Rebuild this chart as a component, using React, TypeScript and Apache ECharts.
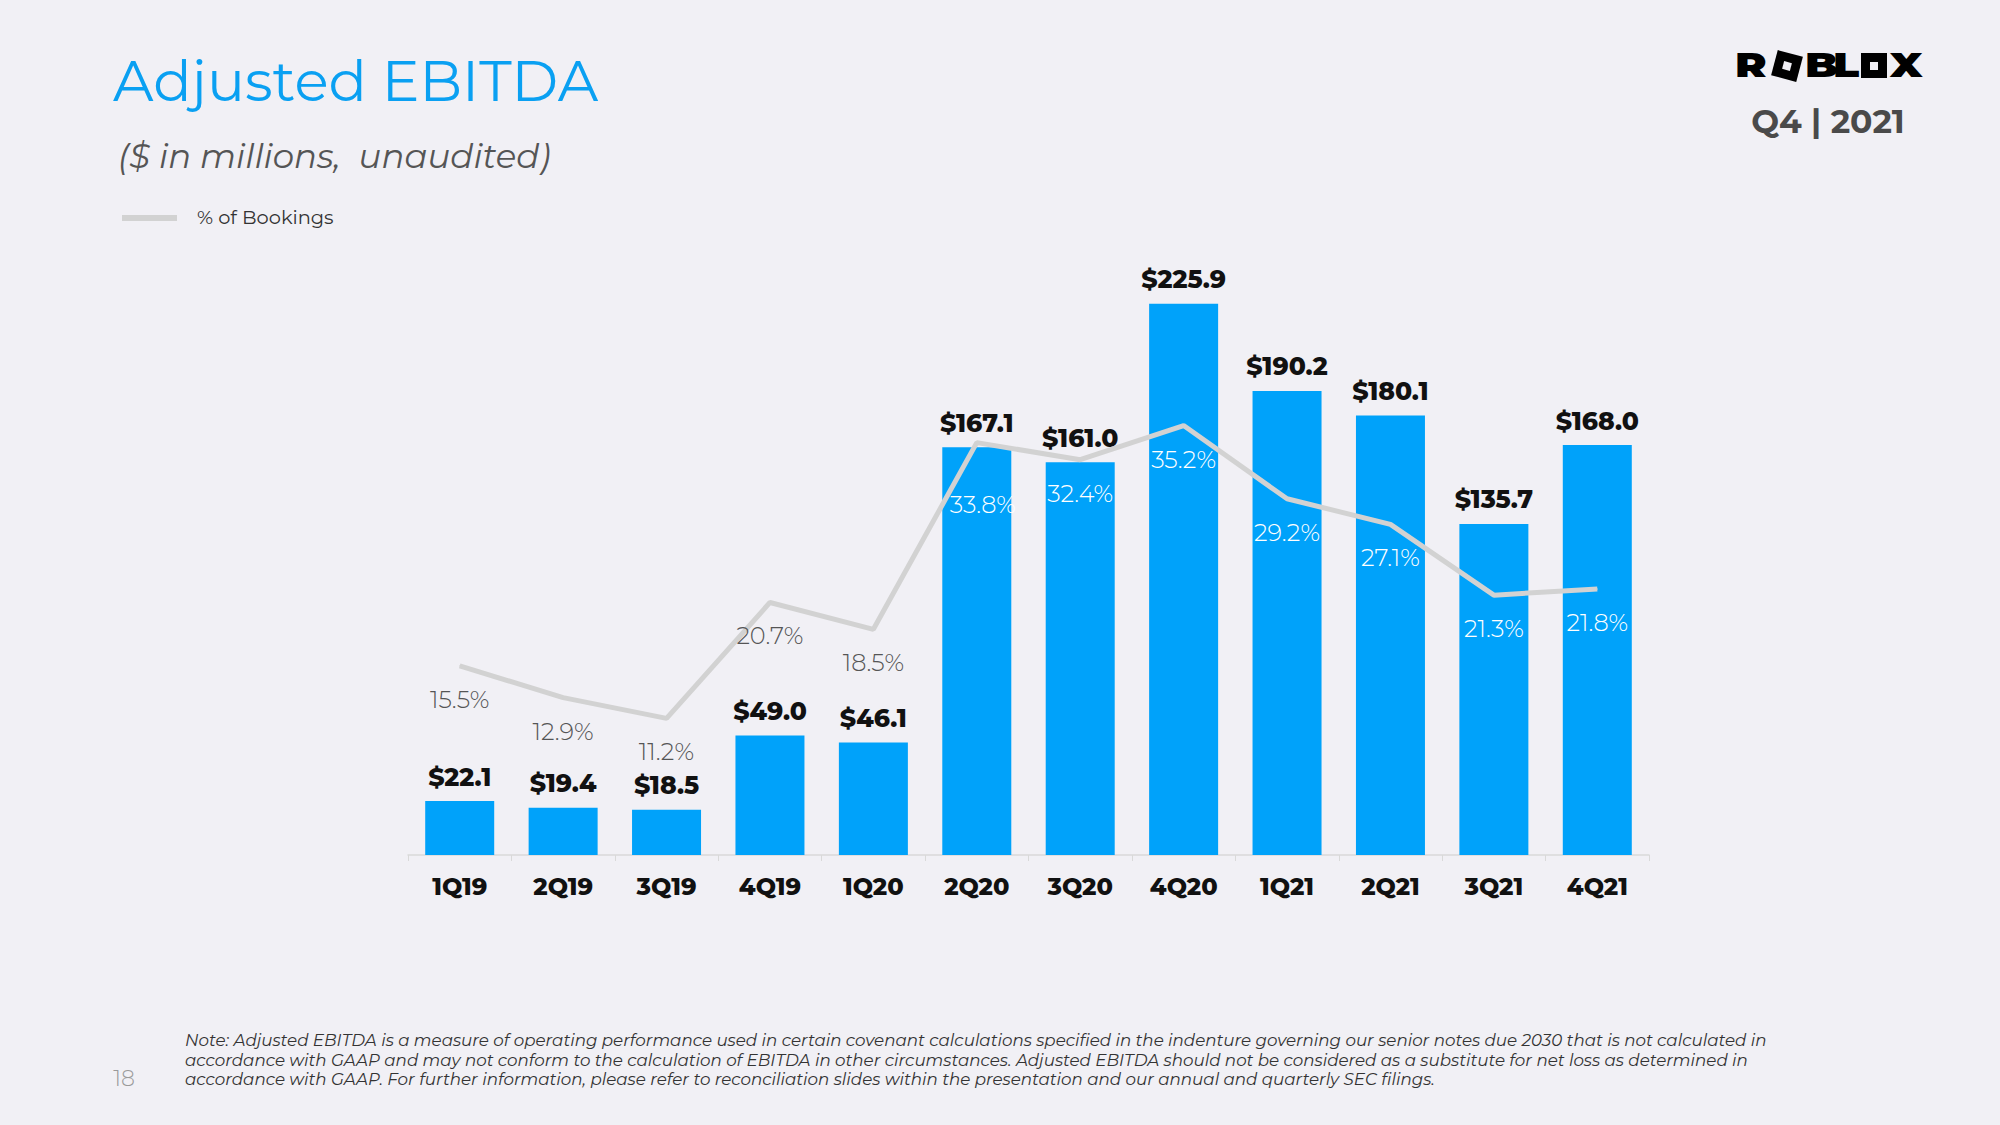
import React, { useEffect, useRef } from "react";
import * as echarts from "echarts";

const categories = ["1Q19", "2Q19", "3Q19", "4Q19", "1Q20", "2Q20", "3Q20", "4Q20", "1Q21", "2Q21", "3Q21", "4Q21"];
const ebitda = [22.1, 19.4, 18.5, 49.0, 46.1, 167.1, 161.0, 225.9, 190.2, 180.1, 135.7, 168.0];
const pctBookings = [15.5, 12.9, 11.2, 20.7, 18.5, 33.8, 32.4, 35.2, 29.2, 27.1, 21.3, 21.8];

const titleText = "Adjusted EBITDA";
const subtitleText = "($ in millions,  unaudited)";
const legendText = "% of Bookings";
const periodText = "Q4 | 2021";
const pageNumber = "18";
const noteLines = [
  "Note: Adjusted EBITDA is a measure of operating performance used in certain covenant calculations specified in the indenture governing our senior notes due 2030 that is not calculated in",
  "accordance with GAAP and may not conform to the calculation of EBITDA in other circumstances. Adjusted EBITDA should not be considered as a substitute for net loss as determined in",
  "accordance with GAAP. For further information, please refer to reconciliation slides within the presentation and our annual and quarterly SEC filings.",
];

const BG = "#f1f0f5";
const BLUE = "#00a2fa";
const FONT = "Montserrat, 'Open Sans', sans-serif";

export default function App() {
  const ref = useRef<HTMLDivElement>(null);
  useEffect(() => {
    if (!ref.current) return;
    const chart = echarts.init(ref.current, null, { renderer: "svg" });
    const lineData = pctBookings.map((v, i) => ({
      value: v,
      label: {
        color: i >= 5 ? "#ffffff" : "#555555",
        offset: i === 5 ? [6, 28] : [0, 0],
      },
    }));
    const logoText = (t: string, x: number) => ({
      type: "text",
      x,
      y: 65,
      scaleX: 1.25,
      style: { text: t, fill: "#000", fontSize: 34, fontWeight: 900, fontFamily: FONT, textVerticalAlign: "middle" },
    });
    const option: any = {
      animation: false,
      backgroundColor: BG,
      textStyle: { fontFamily: FONT },
      grid: { left: 408, right: 351, top: 245, bottom: 270 },
      xAxis: {
        type: "category",
        data: categories,
        axisLine: { lineStyle: { color: "#d9d9d9", width: 1.5 } },
        axisTick: { show: true, length: 6, lineStyle: { color: "#d9d9d9" } },
        axisLabel: { color: "#111", fontWeight: 800, fontSize: 24, margin: 19, fontFamily: FONT },
      },
      yAxis: [
        { type: "value", min: 0, max: 250, show: false, splitLine: { show: false } },
        { type: "value", min: 0, max: 50, show: false, splitLine: { show: false } },
      ],
      series: [
        {
          type: "bar",
          data: ebitda,
          yAxisIndex: 0,
          barWidth: 69,
          itemStyle: { color: BLUE },
          label: {
            show: true,
            position: "top",
            distance: 12,
            formatter: (p: any) => "$" + Number(p.value).toFixed(1),
            color: "#111",
            fontWeight: 800,
            fontSize: 25,
            fontFamily: FONT,
          },
          z: 2,
        },
        {
          type: "line",
          data: lineData,
          yAxisIndex: 1,
          showSymbol: true,
          symbol: "circle",
          symbolSize: 1,
          itemStyle: { color: "#d2d2d2" },
          lineStyle: { color: "#d2d2d2", width: 5 },
          label: {
            show: true,
            position: "bottom",
            distance: 21,
            formatter: (p: any) => Number(p.value).toFixed(1) + "%",
            fontSize: 24,
            fontWeight: 300,
            fontFamily: FONT,
          },
          z: 3,
        },
      ],
      graphic: [
        {
          type: "text",
          left: 113,
          top: 52,
          style: { text: titleText, fill: "#0aa0f2", fontSize: 56.5, fontFamily: FONT },
        },
        {
          type: "text",
          left: 118,
          top: 139,
          style: { text: subtitleText, fill: "#555", fontSize: 34, fontStyle: "italic", fontFamily: FONT },
        },
        {
          type: "line",
          shape: { x1: 122, y1: 218, x2: 177, y2: 218 },
          style: { stroke: "#d2d2d2", lineWidth: 6 },
        },
        {
          type: "text",
          left: 197,
          top: 207,
          style: { text: legendText, fill: "#333", fontSize: 19.4, fontFamily: FONT },
        },
        // ROBLOX logo
        logoText("R", 1735),
        { type: "rect", x: 1787, y: 66, rotation: -0.26, shape: { x: -13, y: -13, width: 26, height: 26 }, style: { fill: "#000" } },
        { type: "rect", x: 1787, y: 66, rotation: -0.26, shape: { x: -4, y: -4, width: 8, height: 8 }, style: { fill: BG } },
        logoText("B", 1805),
        logoText("L", 1833),
        { type: "rect", x: 1861, y: 53, shape: { x: 0, y: 0, width: 26, height: 25 }, style: { fill: "#000" } },
        { type: "rect", x: 1870, y: 62, shape: { x: 0, y: 0, width: 8, height: 8 }, style: { fill: BG } },
        logoText("X", 1890),
        {
          type: "text",
          x: 1828,
          y: 121,
          style: { text: periodText, fill: "#4a4a4a", fontSize: 33, fontWeight: "bold", fontFamily: FONT, textAlign: "center", textVerticalAlign: "middle" },
        },
        ...noteLines.map((t, i) => ({
          type: "text",
          x: 185,
          y: 1040 + i * 19.5,
          style: { text: t, fill: "#333", fontSize: 16.7, fontStyle: "italic", fontFamily: FONT, textVerticalAlign: "middle" },
        })),
        {
          type: "text",
          x: 124,
          y: 1078,
          style: { text: pageNumber, fill: "#9a9a9a", fontSize: 22, fontWeight: 300, fontFamily: FONT, textAlign: "center", textVerticalAlign: "middle" },
        },
      ],
    };
    chart.setOption(option);
    return () => chart.dispose();
  }, []);
  return <div ref={ref} style={{ position: "fixed", left: 0, top: 0, width: 2000, height: 1125 }} />;
}
